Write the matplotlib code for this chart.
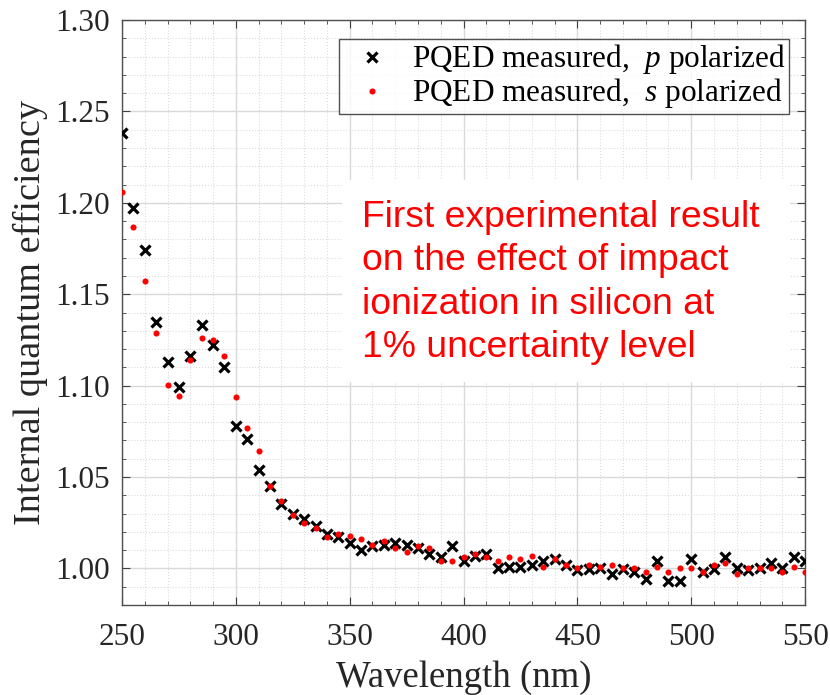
import matplotlib
matplotlib.use("Agg")
import matplotlib.pyplot as plt
from matplotlib.patches import Rectangle
from matplotlib.ticker import MultipleLocator, FormatStrFormatter

# wavelength grid (nm)
wavelength = [250, 255, 260, 265, 270, 275, 280, 285, 290, 295,
              300, 305, 310, 315, 320, 325, 330, 335, 340, 345,
              350, 355, 360, 365, 370, 375, 380, 385, 390, 395,
              400, 405, 410, 415, 420, 425, 430, 435, 440, 445,
              450, 455, 460, 465, 470, 475, 480, 485, 490, 495,
              500, 505, 510, 515, 520, 525, 530, 535, 540, 545,
              550]

# internal quantum efficiency, p polarized
iqe_p = [1.238, 1.197, 1.174, 1.135, 1.113, 1.099, 1.116, 1.133, 1.122, 1.110,
         1.078, 1.071, 1.054, 1.045, 1.035, 1.030, 1.027, 1.023, 1.019, 1.017,
         1.014, 1.010, 1.012, 1.013, 1.014, 1.013, 1.011, 1.008, 1.006, 1.012,
         1.004, 1.007, 1.008, 1.000, 1.001, 1.001, 1.002, 1.004, 1.005, 1.002,
         0.999, 0.9995, 1.000, 0.997, 0.9995, 0.998, 0.994, 1.004, 0.993, 0.993,
         1.005, 0.998, 0.9995, 1.006, 1.000, 0.999, 1.000, 1.003, 1.000, 1.006,
         1.004]

# internal quantum efficiency, s polarized
iqe_s = [1.206, 1.187, 1.157, 1.129, 1.1005, 1.0945, 1.114, 1.126, 1.125, 1.116,
         1.094, 1.077, 1.064, 1.045, 1.037, 1.029, 1.025, 1.022, 1.017, 1.019,
         1.018, 1.016, 1.013, 1.015, 1.011, 1.009, 1.012, 1.011, 1.004, 1.004,
         1.006, 1.008, 1.006, 1.004, 1.006, 1.005, 1.007, 1.001, 1.005, 1.002,
         1.000, 1.002, 1.001, 1.002, 1.000, 1.000, 0.998, 1.001, 0.998, 1.000,
         1.000, 0.998, 1.002, 1.003, 0.997, 1.000, 1.000, 1.000, 0.998, 1.001,
         0.998]

y_ticks = [1.00, 1.05, 1.10, 1.15, 1.20, 1.25, 1.30]
x_ticks = [250, 300, 350, 400, 450, 500, 550]

note = ("First experimental result\n"
        "on the effect of impact\n"
        "ionization in silicon at\n"
        "1% uncertainty level")

plt.rcParams["font.family"] = ["Liberation Serif", "DejaVu Serif"]
plt.rcParams["mathtext.fontset"] = "custom"
plt.rcParams["mathtext.it"] = "Liberation Serif:italic"
plt.rcParams["mathtext.rm"] = "Liberation Serif"

fig = plt.figure(figsize=(8.3, 6.95), dpi=100)
ax = fig.add_axes([0.147, 0.1295, 0.823, 0.8417])

ax.plot(wavelength, iqe_p, linestyle="none", marker="x", color="black",
        markersize=7.8, markeredgewidth=2.3,
        label="PQED measured,  $\\it{p}$ polarized", zorder=3)
ax.plot(wavelength, iqe_s, linestyle="none", marker="o", color="red",
        markersize=4.4, markeredgewidth=0,
        label="PQED measured,  $\\it{s}$ polarized", zorder=4)

ax.set_xlim(250, 550)
ax.set_ylim(0.98, 1.30)
ax.set_xticks(x_ticks)
ax.set_yticks(y_ticks)
ax.yaxis.set_major_formatter(FormatStrFormatter("%.2f"))
ax.xaxis.set_minor_locator(MultipleLocator(10))
ax.yaxis.set_minor_locator(MultipleLocator(0.01))

ax.grid(True, which="major", color="#d9d9d9", linewidth=1.0, linestyle="-")
ax.grid(True, which="minor", color="#dcdcdc", linewidth=0.8, linestyle=":")
ax.set_axisbelow(True)

ax.tick_params(which="both", direction="in", top=True, right=True,
               colors="#404040", labelcolor="#262626")
ax.tick_params(which="major", length=6, labelsize=22.5)
ax.tick_params(axis="x", which="major", pad=13)
ax.tick_params(axis="y", which="major", pad=9)
ax.tick_params(which="minor", length=3)
for sp in ax.spines.values():
    sp.set_color("#505050")
    sp.set_linewidth(1.0)

ax.set_xlabel("Wavelength (nm)", fontsize=26.5, color="#262626", labelpad=6)
ax.set_ylabel("Internal quantum efficiency", fontsize=27.5, color="#262626", labelpad=5)

leg = ax.legend(loc="upper right", fontsize=22.5, frameon=True, fancybox=False,
                edgecolor="#262626", borderpad=0.1, handletextpad=0.35,
                labelspacing=0.0, borderaxespad=0.0, handlelength=1.9,
                bbox_to_anchor=(0.977, 0.967))
leg.get_frame().set_linewidth(1.0)

# white patch behind the note so the grid does not show through
ax.add_patch(Rectangle((0.322, 0.381), 0.656, 0.346, transform=ax.transAxes,
                       facecolor="white", edgecolor="none", zorder=2))
ax.text(0.351, 0.551, note, transform=ax.transAxes, ha="left", va="center",
        fontsize=26.8, color="red", family=["Liberation Sans", "DejaVu Sans"],
        linespacing=1.31, zorder=5)

fig.savefig("out.png", dpi=100)
plt.close(fig)
